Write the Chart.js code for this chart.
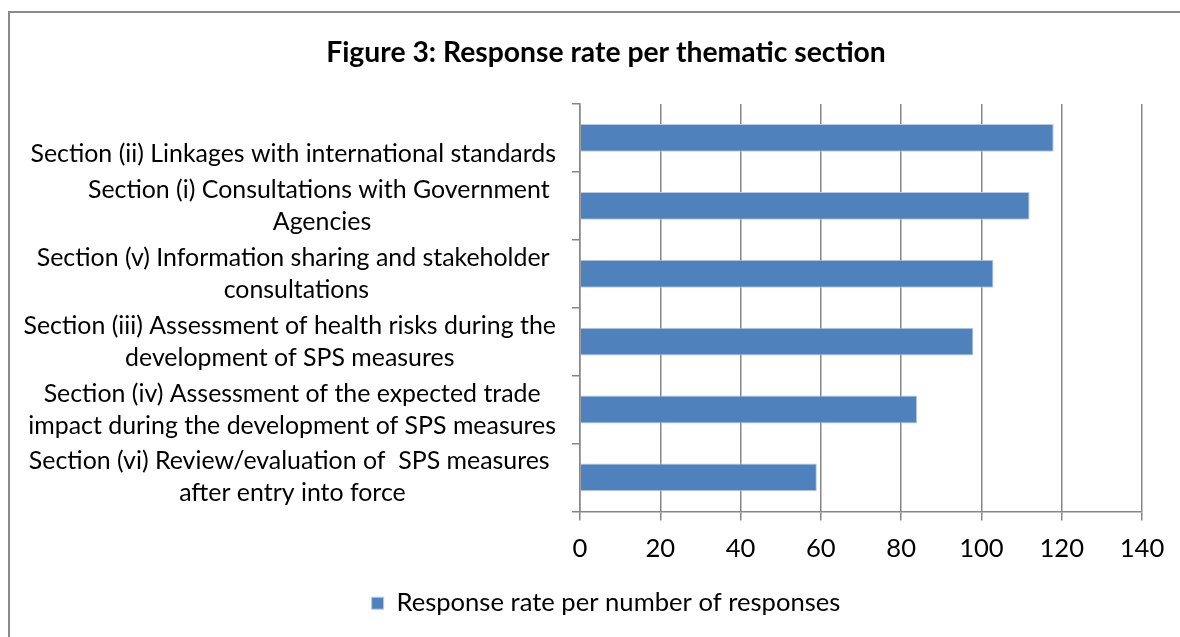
<!DOCTYPE html>
<html>
<head>
<meta charset="utf-8">
<script src="https://cdn.jsdelivr.net/npm/chart.js@4.4.1/dist/chart.umd.min.js"></script>
<style>
  html, body { margin: 0; padding: 0; background: #fff; }
  #wrap { position: relative; width: 1180px; height: 637px; overflow: hidden; }
  #frame { position: absolute; left: 8px; top: 11px; width: 1300px; height: 700px;
           border-left: 2px solid #8a8a8a; border-top: 2px solid #8a8a8a; pointer-events: none; }
  canvas { position: absolute; left: 0; top: 0; }
</style>
</head>
<body>
<div id="wrap">
  <canvas id="bar" width="1180" height="637"></canvas>
  <div id="frame"></div>
</div>
<script>
// chart data
const categories = [
  ['', 'Section (ii) Linkages with international standards'],
  ['Section (i) Consultations with Government ', 'Agencies'],
  ['Section (v) Information sharing and stakeholder ', 'consultations'],
  ['Section (iii) Assessment of health risks during the', 'development of SPS measures'],
  ['Section (iv) Assessment of the expected trade', 'impact during the development of SPS measures'],
  ['Section (vi) Review/evaluation of  SPS measures ', 'after entry into force']
];
const responses = [118, 112, 103, 98, 84, 59];
const xTicks = [0, 20, 40, 60, 80, 100, 120, 140];
const seriesName = 'Response rate per number of responses';
const chartTitle = 'Figure 3: Response rate per thematic section';

const FONT = 'Lato';

// pick a font size so the text is as wide as in the original (Calibri)
function fitSize(text, weight, target) {
  const c = document.createElement('canvas').getContext('2d');
  c.font = weight + ' 100px ' + FONT;
  return Math.round(1000 * target / c.measureText(text).width) / 10;
}
const labelSize = fitSize(categories[0][1], 'normal', 525);
const titleSize = fitSize(chartTitle, 'bold', 560);
const legendSize = fitSize(seriesName, 'normal', 444);

// category labels: each block right-aligned, its lines centred
const centeredLabels = {
  id: 'centeredLabels',
  afterDraw(chart) {
    const y = chart.scales.y;
    const ctx = chart.ctx;
    ctx.save();
    ctx.font = labelSize + 'px ' + FONT;
    ctx.fillStyle = '#000';
    ctx.textAlign = 'center';
    ctx.textBaseline = 'middle';
    const right = y.right - 24;
    y.ticks.forEach((t, i) => {
      const lines = chart.data.labels[i];
      const w = Math.max(...lines.map(l => ctx.measureText(l).width));
      const cx = right - w / 2;
      const cy = y.getPixelForTick(i);
      lines.forEach((l, k) => ctx.fillText(l, cx, cy + (k - (lines.length - 1) / 2) * 32));
    });
    ctx.restore();
  }
};

const gridGrey = '#868686';

new Chart(document.getElementById('bar'), {
  type: 'bar',
  data: {
    labels: categories,
    datasets: [{
      label: seriesName,
      data: responses,
      backgroundColor: '#4f81bd',
      borderColor: '#b9cbe4',
      borderWidth: 1,
      categoryPercentage: 1,
      barPercentage: 0.41
    }]
  },
  options: {
    indexAxis: 'y',
    responsive: false,
    animation: false,
    layout: { padding: { left: 70, right: 38, top: 0, bottom: 11 } },
    scales: {
      x: {
        min: 0,
        max: 140,
        afterBuildTicks: s => { s.ticks = xTicks.map(v => ({ value: v })); },
        afterFit: s => { s.height = 69; },
        grid: { color: gridGrey, lineWidth: 1.5, tickLength: 9, drawTicks: true },
        border: { color: gridGrey, width: 1.5 },
        ticks: { color: '#000', font: { family: FONT, size: legendSize }, padding: 13, maxRotation: 0 }
      },
      y: {
        afterFit: s => { s.width = 510; },
        grid: { drawOnChartArea: false, color: gridGrey, lineWidth: 1.5, tickLength: 8, offset: true },
        border: { color: gridGrey, width: 1.5 },
        ticks: { color: 'rgba(0,0,0,0)', font: { family: FONT, size: 10 } }
      }
    },
    plugins: {
      title: {
        display: true,
        text: chartTitle,
        color: '#000',
        font: { family: FONT, size: titleSize, weight: 'bold' },
        padding: { top: 36, bottom: 34 }
      },
      legend: {
        position: 'bottom',
        labels: {
          color: '#000',
          font: { family: FONT, size: legendSize },
          boxWidth: 12,
          boxHeight: 12,
          padding: 10
        }
      },
      tooltip: { enabled: false }
    }
  },
  plugins: [centeredLabels]
});
</script>
</body>
</html>
